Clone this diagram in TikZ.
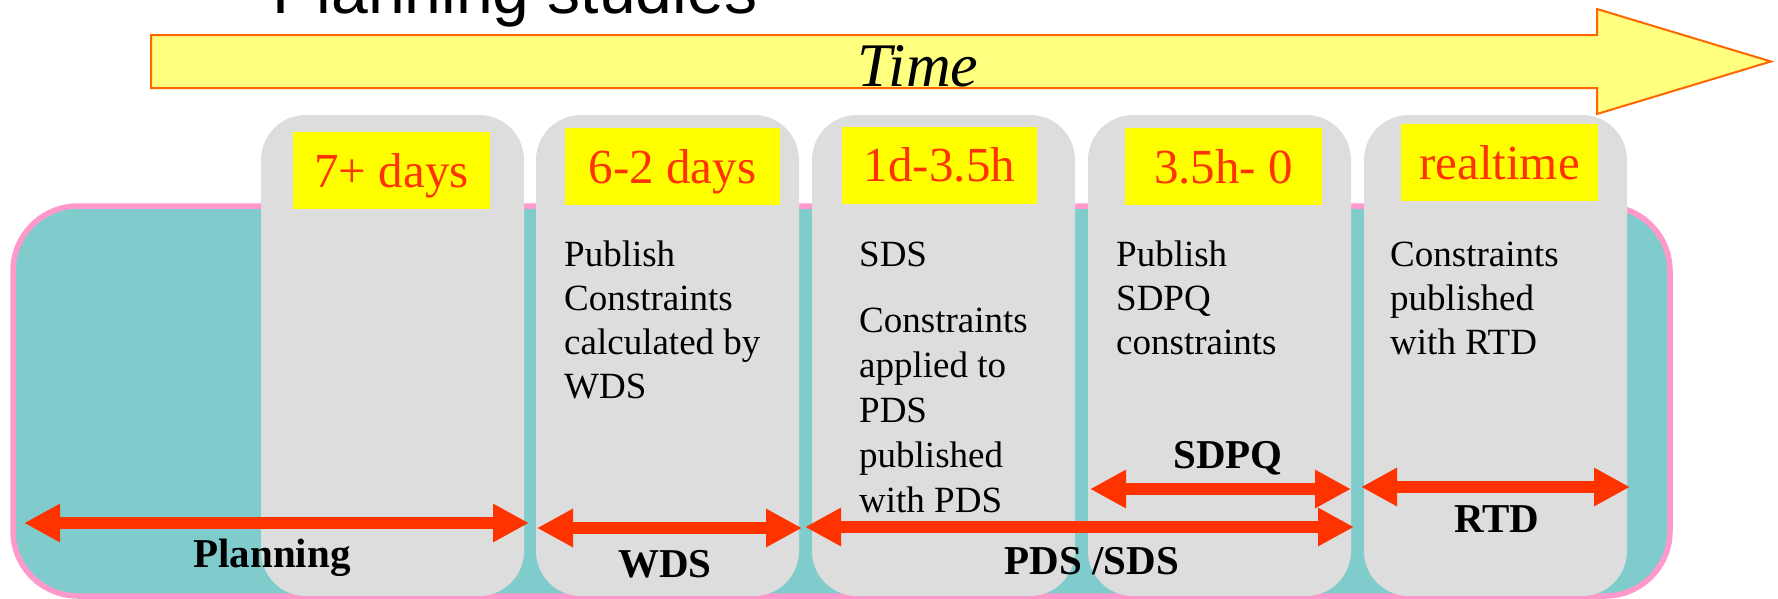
\documentclass[tikz,border=0pt]{standalone}
\usepackage{fontspec}
\setmainfont{Liberation Serif}
\newfontfamily\arialfont{Liberation Sans}
\usetikzlibrary{arrows.meta}
\definecolor{tealc}{HTML}{80CCCC}
\definecolor{pinkc}{HTML}{FF99CC}
\definecolor{grayc}{HTML}{DDDDDD}
\definecolor{yellowc}{HTML}{FFFF00}
\definecolor{redc}{HTML}{FF3300}
\definecolor{timefill}{HTML}{FFFF80}
\definecolor{timeline}{HTML}{FF6600}
\begin{document}
\begin{tikzpicture}[x=1pt,y=-1pt,
  colbox/.style={fill=grayc, rounded corners=45pt, minimum width=263pt, minimum height=481pt, inner sep=0pt},
  tagbox/.style={fill=yellowc, minimum height=77pt, inner sep=0pt, text=redc, font=\fontsize{49}{55}\selectfont, text height=33pt, text depth=0pt},
  bodytext/.style={anchor=north west, inner sep=0pt, align=left, font=\fontsize{37}{44}\selectfont},
  spanlabel/.style={anchor=base, inner sep=0pt, font=\fontsize{41}{48}\selectfont\bfseries},
  spanarrow/.style={draw=redc, line width=12pt, {Triangle[length=36pt,width=36pt]}-{Triangle[length=36pt,width=36pt]}},
]
\useasboundingbox (0,0) rectangle (1778,598);
\clip (0,0) rectangle (1778,598);

% title (cut off)
\node[anchor=base, inner sep=0pt, font=\arialfont\fontsize{66}{70}\selectfont] (title) at (515,13) {Planning studies};

% time arrow
\draw[fill=timefill, draw=timeline, line width=2pt, line join=miter]
  (151,35) -- (1597,35) -- (1597,9) -- (1771,61.5) -- (1597,114) -- (1597,88) -- (151,88) -- cycle;
\node[anchor=base, inner sep=0pt, font=\fontsize{62}{70}\selectfont\itshape] (time) at (918,86) {Time};

% panel
\node[draw=pinkc, line width=5.5pt, fill=tealc, rounded corners=65pt, minimum width=1657pt, minimum height=390pt, inner sep=0pt] (panel) at (841.5,401) {};

% columns
\node[colbox] (c1) at (392.5,355.5) {};
\node[colbox] (c2) at (667.5,355.5) {};
\node[colbox] (c3) at (943.5,355.5) {};
\node[colbox] (c4) at (1219.5,355.5) {};
\node[colbox] (c5) at (1495.5,355.5) {};

% tags
\node[tagbox, minimum width=197pt] (t1) at (391.5,170.5) {7+ days};
\node[tagbox, minimum width=215pt] (t2) at (672.5,166.5) {6-2 days};
\node[tagbox, minimum width=195pt] (t3) at (939.5,165) {1d-3.5h};
\node[tagbox, minimum width=197pt] (t4) at (1223.5,166.5) {3.5h- 0};
\node[tagbox, minimum width=197pt] (t5) at (1499.5,162.5) {realtime};

% body texts
\node[bodytext] (b2) at (564,235.2) {\strut Publish\\Constraints\\calculated by\\WDS};
\node[bodytext, font=\fontsize{37}{45}\selectfont] (b3) at (859,234.5) {\strut SDS\\[21pt]Constraints\\applied to\\PDS\\published\\with PDS};
\node[bodytext] (b4) at (1116,235.2) {\strut Publish\\SDPQ\\constraints};
\node[bodytext] (b5) at (1390,235.2) {\strut Constraints\\published\\with RTD};

% span arrows
\coordinate (planL) at (24,523);
\coordinate (planR) at (529,523);
\coordinate (wdsL) at (537,528);
\coordinate (wdsR) at (802,528);
\coordinate (pdsL) at (805,527);
\coordinate (pdsR) at (1354,527);
\coordinate (sdpqL) at (1090,489);
\coordinate (sdpqR) at (1351,489);
\coordinate (rtdL) at (1361,487);
\coordinate (rtdR) at (1630,487);
\draw[spanarrow] (planL) -- (planR);
\draw[spanarrow] (wdsL) -- (wdsR);
\draw[spanarrow] (pdsL) -- (pdsR);
\draw[spanarrow] (sdpqL) -- (sdpqR);
\draw[spanarrow] (rtdL) -- (rtdR);

% span labels
\node[spanlabel] (lplan) at (272,567) {Planning};
\node[spanlabel] (lwds) at (665,577) {WDS};
\node[spanlabel] (lpds) at (1092,574) {PDS /SDS};
\node[spanlabel] (lsdpq) at (1228,468) {SDPQ};
\node[spanlabel] (lrtd) at (1497,532) {RTD};
\end{tikzpicture}
\end{document}
